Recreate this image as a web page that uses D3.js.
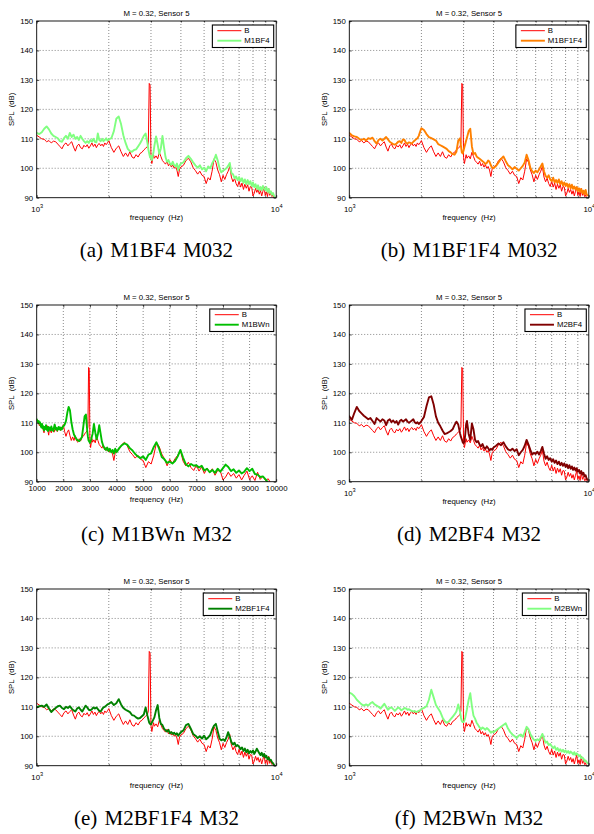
<!DOCTYPE html>
<html>
<head>
<meta charset="utf-8">
<script src="https://cdn.jsdelivr.net/npm/d3@7"></script>
<style>
  body { margin: 0; background: #fff; }
  svg text { font-family: "Liberation Sans", Arial, Helvetica, sans-serif; }
  svg text.cap { font-family: "Liberation Serif", "Times New Roman", Times, serif; }
</style>
</head>
<body>
<svg id="fig" width="594" height="834"></svg>
<script>
// ---------------------------------------------------------------
// Spectra at M = 0.32, sensor 5: baseline B against six variants
// ---------------------------------------------------------------

// frequency bins (Hz)
const freq = [
  1000,1025,1050,1075,1100,1125,1150,1175,1200,1225,1250,1275,1300,1325,1350,1375,1400,1425,1450,1475,
  1500,1525,1550,1575,1600,1625,1650,1675,1700,1725,1750,1775,1800,1825,1850,1875,1900,1925,1950,1975,2000,
  2050,2100,2150,2200,2250,2300,2350,2400,2450,2500,2550,2600,2650,2700,2750,2800,2850,2900,
  2925,2950,2975,3000,3025,3050,3075,3100,
  3150,3200,3250,3300,3350,3400,3450,3500,3550,3600,3650,3700,3750,3800,3850,3900,3950,4000,
  4100,4200,4300,4400,4500,4600,4700,4800,4900,5000,5100,5200,5300,5400,5500,5600,5700,5800,5900,6000,
  6100,6200,6300,6400,6500,6600,6700,6800,6900,7000,7100,7200,7300,7400,7500,7600,7700,7800,7900,8000,
  8100,8200,8300,8400,8500,8600,8700,8800,8900,9000,9100,9200,9300,9400,9500,9600,9700,9800,9900
];

// SPL (dB) of the baseline configuration
const spl_B = [
  111.2,110.6,110.0,109.8,109.0,109.4,108.6,109.2,109.0,108.2,
  107.4,106.6,108.0,108.6,107.6,108.4,109.0,107.2,105.8,107.6,
  108.2,107.0,106.6,107.8,107.2,108.0,106.8,107.6,108.6,107.4,
  108.2,107.0,108.0,108.4,107.6,108.2,107.4,108.6,108.0,108.6,
  109.4,
  107.0,105.4,106.8,107.6,105.6,104.0,105.2,104.0,105.6,103.8,
  103.4,104.6,103.8,105.0,105.4,106.2,106.8,107.4,
  108.6,128.8,128.2,103.6,101.6,103.2,104.6,103.4,
  104.2,103.2,105.4,104.0,102.6,102.0,101.4,102.4,100.8,101.6,
  100.4,101.2,100.0,100.6,99.4,97.2,99.8,100.4,
  101.0,102.6,103.4,102.2,100.2,99.2,98.0,99.0,97.6,97.2,
  94.8,96.8,96.0,99.0,103.2,102.0,99.4,97.8,95.4,97.6,
  96.2,97.8,99.0,100.6,97.0,95.4,96.6,94.8,93.8,95.6,
  93.6,95.0,92.8,94.6,93.2,94.4,92.2,93.8,93.6,90.6,
  91.6,93.2,91.8,92.8,91.2,92.4,90.6,92.2,93.6,90.8,
  92.0,90.4,93.2,90.8,91.8,90.4,91.0,89.4,88.8
];

const spl_M1BF4 = [
  112.0,111.6,112.2,113.4,114.2,113.2,111.8,111.0,110.6,110.2,
  109.2,109.0,110.2,111.0,110.0,112.0,110.6,111.4,110.0,110.6,
  109.6,111.0,110.0,109.2,108.6,109.2,108.6,109.6,109.0,110.0,
  109.0,108.8,111.8,109.6,109.2,110.0,109.2,109.6,110.2,109.4,
  109.8,
  110.2,112.6,116.8,117.6,115.0,111.2,108.6,106.6,105.8,105.6,
  106.2,106.4,107.4,108.4,109.6,111.0,111.8,108.6,
  106.4,105.0,103.6,104.2,102.8,104.0,105.6,107.6,
  110.8,108.0,104.8,106.8,111.0,107.2,103.8,102.2,102.8,101.6,
  101.2,102.2,101.0,100.6,101.6,99.4,101.0,101.6,
  102.0,103.4,104.2,103.2,102.0,101.0,100.2,101.0,99.6,100.2,
  99.0,100.6,100.0,101.6,102.8,104.6,102.6,100.0,98.6,99.2,
  99.6,100.0,100.8,101.8,98.4,98.0,96.6,97.2,96.0,97.0,
  95.6,96.6,95.0,96.2,94.6,96.0,94.6,95.6,94.0,95.2,
  93.6,94.6,93.0,94.2,92.6,93.6,92.6,94.0,93.0,92.6,
  93.6,92.0,93.0,91.6,92.2,91.0,91.6,90.6,90.0
];

const spl_M1BF1F4 = [
  112.0,111.2,110.8,110.6,110.0,109.6,110.0,109.4,110.2,110.0,
  110.4,109.2,108.4,109.6,110.0,109.4,110.0,110.6,109.8,109.0,
  108.6,108.2,108.0,108.4,109.0,109.2,108.6,109.8,109.6,108.6,
  108.4,108.8,108.6,108.4,109.0,109.4,109.8,110.2,111.0,112.4,
  113.6,
  113.0,111.6,110.6,110.2,109.8,109.4,108.2,107.8,107.4,107.0,
  106.6,105.8,105.4,104.8,104.6,105.6,109.4,110.2,
  107.6,105.4,105.0,106.0,107.2,108.2,109.4,110.4,
  112.6,113.4,107.4,104.8,105.2,104.0,103.6,103.2,102.8,102.4,
  102.0,101.4,101.8,102.6,102.2,101.0,100.2,100.0,
  100.8,102.0,103.2,104.0,102.4,101.0,100.4,99.6,100.4,99.8,
  99.2,100.0,100.8,102.0,104.6,102.8,100.2,99.0,98.4,99.2,
  98.6,99.6,100.6,101.6,99.0,97.4,96.8,97.6,96.2,95.6,
  96.8,95.2,96.0,95.0,96.2,94.6,95.6,94.2,95.2,94.0,
  94.8,93.6,94.6,93.2,94.4,93.0,93.8,92.8,93.6,92.2,
  93.2,92.0,93.0,91.6,92.4,91.2,92.6,91.0,90.8
];

const spl_M1BWn = [
  111.2,110.6,110.2,110.6,109.8,110.2,109.0,108.4,109.6,108.2,
  108.8,107.4,108.6,108.0,109.2,107.6,108.4,107.2,108.6,107.8,
  108.2,107.4,108.8,107.6,108.0,107.2,108.4,109.4,108.6,107.8,
  108.2,107.4,108.0,108.6,107.8,108.4,107.6,108.2,107.8,108.6,
  108.8,
  109.4,110.6,113.4,115.4,114.2,110.4,107.8,106.0,105.2,104.4,
  104.0,103.8,104.4,105.2,108.6,112.2,112.8,107.2,
  105.2,104.0,103.6,103.2,103.8,104.4,105.4,106.2,
  109.6,106.8,104.4,106.2,109.2,106.4,103.6,102.2,101.4,100.8,
  101.6,100.4,101.2,100.0,100.8,99.6,101.2,100.0,
  101.4,102.4,103.0,102.6,101.4,100.6,99.4,98.6,98.0,98.6,
  97.4,99.2,99.6,101.8,103.4,101.2,98.4,97.6,96.4,96.8,
  96.2,97.0,98.6,100.8,98.2,96.0,95.2,96.0,95.4,95.6,
  94.8,95.4,93.8,94.4,93.2,94.0,93.0,94.4,93.4,94.6,
  95.8,95.0,93.6,94.2,93.0,93.8,92.8,93.4,94.6,93.6,
  94.4,92.6,92.4,91.6,91.8,90.8,89.6,89.2,88.8
];

const spl_M2BF4 = [
  112.2,111.0,113.4,115.4,114.0,113.2,112.4,111.8,111.2,111.6,
  110.6,109.6,111.6,111.0,110.4,111.2,110.8,109.2,110.8,111.2,
  110.2,110.8,110.0,110.6,109.4,110.6,111.0,110.4,110.8,111.2,
  110.4,110.0,110.4,110.8,111.2,110.2,109.8,110.2,109.6,110.0,
  110.6,
  112.0,115.6,118.6,119.0,116.2,112.2,110.0,108.8,107.4,106.2,
  106.4,106.8,107.2,107.8,109.2,110.4,109.4,106.4,
  105.2,104.4,103.4,103.0,103.6,106.2,109.6,110.6,
  106.2,104.2,109.8,107.8,104.2,103.4,103.8,102.6,102.0,102.8,
  101.6,101.2,102.0,101.4,100.6,101.2,100.8,101.6,
  102.2,103.0,102.4,103.4,102.0,101.0,100.6,101.2,100.4,101.0,
  99.0,100.0,100.8,102.2,104.2,102.6,100.8,99.2,99.8,99.4,
  100.2,99.2,100.4,101.8,99.6,97.8,98.6,97.4,98.0,96.8,
  97.6,96.4,97.2,96.0,96.8,95.6,96.4,95.4,96.2,95.0,
  95.8,94.6,95.6,94.4,95.2,94.0,94.8,93.8,94.6,93.4,
  94.0,92.8,93.6,92.4,93.0,91.8,92.2,91.0,90.6
];

const spl_M2BF1F4 = [
  109.8,110.2,110.4,110.0,110.8,109.4,108.2,109.0,109.6,110.2,
  110.4,109.6,109.2,110.0,109.6,110.2,109.4,108.8,108.4,109.4,
  109.8,109.0,108.4,109.4,110.4,109.8,109.0,108.8,109.2,109.8,
  109.4,109.8,109.2,108.6,108.4,109.2,109.8,110.0,110.4,110.8,
  111.0,
  111.6,110.6,111.2,112.6,110.8,109.6,109.0,108.6,108.2,107.2,
  107.0,106.4,106.0,106.2,106.8,107.4,109.8,107.0,
  105.8,104.6,104.2,104.0,104.6,105.2,105.8,106.4,
  108.8,110.6,106.2,104.2,103.8,102.6,102.0,101.6,102.2,101.0,
  101.4,100.8,101.2,100.6,101.0,100.2,100.8,101.4,
  102.0,103.8,104.2,102.6,100.8,100.2,99.4,100.0,99.2,100.2,
  99.0,99.6,100.4,102.2,103.6,104.2,101.6,99.2,98.6,99.0,
  98.4,99.6,101.4,99.8,98.0,97.2,97.8,96.6,97.0,96.4,
  95.6,96.2,95.0,95.8,94.6,95.4,94.2,95.0,94.4,95.2,
  94.0,94.8,95.8,95.0,94.2,93.6,94.4,93.2,94.0,92.8,
  93.4,92.2,92.8,91.8,92.0,91.2,90.8,90.2,89.6
];

const spl_M2BWn = [
  114.8,114.4,113.6,112.4,111.6,110.8,110.4,110.8,110.4,111.2,
  111.6,110.8,110.4,110.0,109.4,110.2,111.0,110.0,109.0,109.6,
  109.8,109.2,108.6,109.2,109.8,109.4,108.8,109.2,109.6,109.4,
  109.0,109.2,108.8,108.6,108.4,108.6,108.2,108.4,108.6,108.8,
  109.2,
  109.6,110.2,112.4,115.8,113.2,110.6,109.4,108.2,106.4,105.2,
  104.6,105.0,105.8,106.6,107.4,108.4,110.8,108.4,
  106.4,105.2,104.8,104.8,105.4,106.4,107.8,109.2,
  112.4,114.6,110.2,107.0,106.0,104.6,103.8,103.0,102.4,103.0,
  102.6,102.2,102.8,102.4,101.8,101.2,101.6,101.4,
  102.0,102.6,103.2,103.8,104.4,102.6,101.4,100.6,100.0,99.4,
  100.2,100.6,99.8,101.4,103.2,102.4,100.8,99.6,98.8,98.4,
  99.0,98.6,99.6,100.8,99.2,97.8,98.2,97.0,97.4,96.6,
  96.0,96.6,95.4,96.0,95.0,95.6,94.8,95.4,94.6,95.2,
  94.4,95.0,94.2,94.8,94.4,93.8,94.6,93.6,94.2,93.8,
  93.2,93.6,92.6,92.8,92.4,91.6,91.8,91.2,90.8
];

// axis ticks and labels
const yTicks = [90, 100, 110, 120, 130, 140, 150];
const yGrid = [100, 110, 120, 130, 140];
const xTicksLog = [1000, 10000];
const xMinorLog = [2000, 3000, 4000, 5000, 6000, 7000, 8000, 9000];
const xTicksLin = [1000, 2000, 3000, 4000, 5000, 6000, 7000, 8000, 9000, 10000];
const xDomain = [1000, 10000];
const yDomain = [90, 150];
const titleText = "M = 0.32, Sensor 5";
const xLabelText = "frequency  (Hz)";
const yLabelText = "SPL  (dB)";
const baseName = "B";

// one entry per sub-figure
const panels = [
  { col: 0, row: 0, name: "M1BF4",   values: spl_M1BF4,   color: "#80ff80", xType: "log",    caption: "(a) M1BF4 M032" },
  { col: 1, row: 0, name: "M1BF1F4", values: spl_M1BF1F4, color: "#ff8000", xType: "log",    caption: "(b) M1BF1F4 M032" },
  { col: 0, row: 1, name: "M1BWn",   values: spl_M1BWn,   color: "#00bf00", xType: "linear", caption: "(c) M1BWn M32" },
  { col: 1, row: 1, name: "M2BF4",   values: spl_M2BF4,   color: "#800000", xType: "log",    caption: "(d) M2BF4 M32" },
  { col: 0, row: 2, name: "M2BF1F4", values: spl_M2BF1F4, color: "#008000", xType: "log",    caption: "(e) M2BF1F4 M32" },
  { col: 1, row: 2, name: "M2BWn",   values: spl_M2BWn,   color: "#80ff80", xType: "log",    caption: "(f) M2BWn M32" }
];

// ---------------- layout ----------------
const W = 239.5, H = 176.7;
const colX = [36.7, 349.3];
const rowY = [21, 305, 589];
const captionOffset = 236;
const FS = 7.8;          // axes font size
const baseColor = "#ff0000";

const svg = d3.select("#fig");
svg.append("rect").attr("width", 594).attr("height", 834).attr("fill", "#fff");

const defs = svg.append("defs");

function drawPanel(p, idx) {
  const ox = colX[p.col], oy = rowY[p.row];
  const g = svg.append("g").attr("transform", `translate(${ox},${oy})`);

  const x = (p.xType === "log" ? d3.scaleLog() : d3.scaleLinear()).domain(xDomain).range([0, W]);
  const y = d3.scaleLinear().domain(yDomain).range([H, 0]);

  const clipId = "clip" + idx;
  defs.append("clipPath").attr("id", clipId)
    .append("rect").attr("x", 0).attr("y", 0).attr("width", W).attr("height", H);

  g.append("rect").attr("width", W).attr("height", H).attr("fill", "#fff");

  // dotted grid
  const gridX = p.xType === "log" ? xMinorLog : xTicksLin.slice(1, -1);
  const grid = g.append("g").attr("stroke", "#000").attr("stroke-opacity", 0.75)
    .attr("stroke-width", 0.7).attr("stroke-dasharray", "0.9 2.1");
  grid.append("g").selectAll("line").data(gridX).join("line")
    .attr("x1", d => x(d)).attr("x2", d => x(d)).attr("y1", 0).attr("y2", H);
  grid.append("g").selectAll("line").data(yGrid).join("line")
    .attr("x1", 0).attr("x2", W).attr("y1", d => y(d)).attr("y2", d => y(d));

  // spectra
  const line = d3.line().x(d => x(d[0])).y(d => y(d[1]));
  const curves = g.append("g").attr("clip-path", `url(#${clipId})`)
    .attr("fill", "none").attr("stroke-linejoin", "round").attr("stroke-linecap", "round");
  curves.append("path").datum(d3.zip(freq, spl_B))
    .attr("d", line).attr("stroke", baseColor).attr("stroke-width", 1);
  curves.append("path").datum(d3.zip(freq, p.values))
    .attr("d", line).attr("stroke", p.color).attr("stroke-width", 1.9);

  // axes with inward ticks
  const styleAxis = sel => {
    sel.select(".domain").remove();
    sel.attr("font-size", null).attr("font-family", null);
    sel.selectAll("text").style("font-size", FS + "px").attr("fill", "#000");
    sel.selectAll("line").attr("stroke-width", 0.7);
  };

  g.append("g")
    .call(d3.axisLeft(y).tickValues(yTicks).tickSizeInner(-2.5).tickSizeOuter(0).tickPadding(3.5))
    .call(styleAxis);
  g.append("g").attr("transform", `translate(${W},0)`)
    .call(d3.axisRight(y).tickValues(yTicks).tickSizeInner(-2.5).tickSizeOuter(0).tickFormat(""))
    .call(styleAxis);

  if (p.xType === "log") {
    const xb = g.append("g").attr("transform", `translate(0,${H})`)
      .call(d3.axisBottom(x).tickValues(xTicksLog).tickSizeInner(-2.5).tickSizeOuter(0)
        .tickPadding(8.4).tickFormat(() => ""))
      .call(styleAxis);
    xb.selectAll(".tick text").each(function (d) {
      const t = d3.select(this);
      t.append("tspan").text("10");
      t.append("tspan").attr("dy", -3.4).style("font-size", "5.6px").text(Math.round(Math.log10(d)));
    });
    g.append("g").attr("transform", `translate(0,${H})`)
      .call(d3.axisBottom(x).tickValues(xMinorLog).tickSizeInner(-1.5).tickSizeOuter(0).tickFormat(""))
      .call(styleAxis);
    g.append("g")
      .call(d3.axisTop(x).tickValues(xTicksLog).tickSizeInner(-2.5).tickSizeOuter(0).tickFormat(""))
      .call(styleAxis);
    g.append("g")
      .call(d3.axisTop(x).tickValues(xMinorLog).tickSizeInner(-1.5).tickSizeOuter(0).tickFormat(""))
      .call(styleAxis);
  } else {
    g.append("g").attr("transform", `translate(0,${H})`)
      .call(d3.axisBottom(x).tickValues(xTicksLin).tickSizeInner(-2.5).tickSizeOuter(0)
        .tickPadding(4.2).tickFormat(d3.format("d")))
      .call(styleAxis);
    g.append("g")
      .call(d3.axisTop(x).tickValues(xTicksLin).tickSizeInner(-2.5).tickSizeOuter(0).tickFormat(""))
      .call(styleAxis);
  }

  // axes box
  g.append("rect").attr("width", W).attr("height", H)
    .attr("fill", "none").attr("stroke", "#000").attr("stroke-width", 0.9);

  // title and axis labels
  g.append("text").attr("x", W / 2).attr("y", -5.4).attr("text-anchor", "middle")
    .style("font-size", FS + "px").text(titleText);
  g.append("text").attr("x", W / 2).attr("y", H + (p.xType === "log" ? 22.3 : 19.8))
    .attr("text-anchor", "middle").style("font-size", FS + "px").style("white-space", "pre")
    .text(xLabelText);
  g.append("text").attr("transform", `translate(-22.4,${H / 2}) rotate(-90)`)
    .attr("text-anchor", "middle").style("font-size", FS + "px").style("white-space", "pre")
    .text(yLabelText);

  // legend, top right
  const lg = g.append("g");
  const box = lg.append("rect").attr("fill", "#fff").attr("stroke", "#000").attr("stroke-width", 1.1);
  const entries = [
    { label: baseName, color: baseColor, width: 1 },
    { label: p.name, color: p.color, width: 1.9 }
  ];
  const texts = entries.map((e, i) =>
    lg.append("text").attr("y", 5.7 + i * 10).attr("dy", "0.35em")
      .style("font-size", FS + "px").text(e.label));
  const tw = d3.max(texts, t => t.node().getComputedTextLength());
  const bw = 32 + tw + 4.2, bh = 22.5;
  const bx = W - 2.5 - bw, by = 4;
  box.attr("x", bx).attr("y", by).attr("width", bw).attr("height", bh);
  texts.forEach(t => t.attr("x", bx + 32).attr("y", by + +t.attr("y")));
  entries.forEach((e, i) => {
    lg.append("line").attr("x1", bx + 5).attr("x2", bx + 29)
      .attr("y1", by + 5.7 + i * 10).attr("y2", by + 5.7 + i * 10)
      .attr("stroke", e.color).attr("stroke-width", e.width);
  });

  // sub-figure caption
  svg.append("text").attr("class", "cap")
    .attr("x", ox + W / 2).attr("y", oy + captionOffset)
    .attr("text-anchor", "middle").style("font-size", "21px").style("word-spacing", "2px")
    .text(p.caption);
}

panels.forEach(drawPanel);
</script>
</body>
</html>
